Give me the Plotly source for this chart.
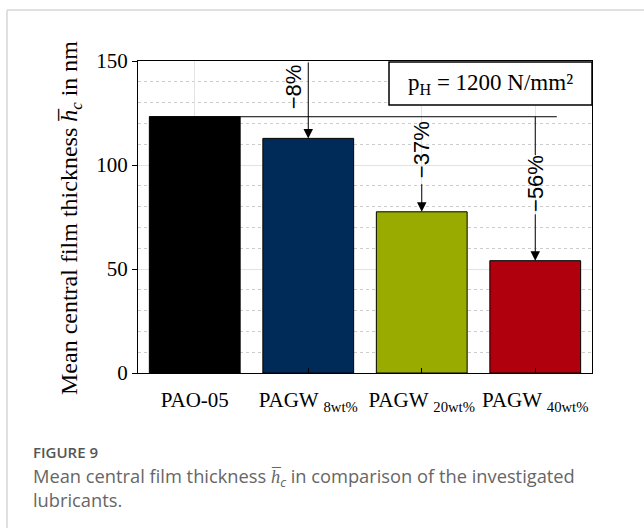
import plotly.graph_objects as go

# ---- data ----
categories = ["PAO-05", "PAGW8", "PAGW20", "PAGW40"]
tick_labels = ["PAO-05", "PAGW <sub>8wt%</sub>", "PAGW <sub>20wt%</sub>", "PAGW <sub>40wt%</sub>"]
film_thickness = [123.2, 112.8, 77.5, 54.0]
bar_colors = ["#000000", "#002b59", "#9aab00", "#b0000d"]
reduction_labels = ["\u22128%", "\u221237%", "\u221256%"]

# ---- geometry (pixels of the 644x528 page) ----
W, H = 644, 528
L, R, T, B = 138, 592, 61, 373
pw, ph = R - L, B - T


def px(xp):
    return (xp - L) / pw


def py(yp):
    return (B - yp) / ph


serif = "Liberation Serif"
sans = "Liberation Sans"
xs = list(range(len(categories)))

fig = go.Figure()
fig.add_trace(go.Bar(
    x=xs, y=film_thickness, width=0.8,
    marker=dict(color=bar_colors, line=dict(color="black", width=1)),
    showlegend=False, hoverinfo="skip",
))

shapes = []
annotations = []
pct_font = dict(family=sans, size=22, color="black")
arrow_style = dict(showarrow=True, arrowhead=2, arrowsize=1.9, arrowwidth=1,
                   arrowcolor="black", standoff=0, text="")

# reference line at PAO-05 level
ref = film_thickness[0]
shapes.append(dict(type="line", xref="x", yref="y", x0=-0.4, x1=3.19, y0=ref, y1=ref,
                   line=dict(color="black", width=1)))

# -8% arrow: from top of the plot down to bar 1
annotations.append(dict(x=1, y=film_thickness[1], ax=1, ay=150, xref="x", yref="y",
                        axref="x", ayref="y", **arrow_style))
annotations.append(dict(x=0.865, y=137.8, xref="x", yref="y", text=reduction_labels[0],
                        xanchor="center", yanchor="middle",
                        textangle=-90, showarrow=False, font=pct_font))

# -37% text and arrow
annotations.append(dict(x=2, y=107.5, xref="x", yref="y", text=reduction_labels[1],
                        xanchor="center", yanchor="middle",
                        textangle=-90, showarrow=False, font=pct_font))
annotations.append(dict(x=2, y=film_thickness[2], ax=2, ay=91.5, xref="x", yref="y",
                        axref="x", ayref="y", **arrow_style))

# -56% connector, text, arrow
shapes.append(dict(type="line", xref="x", yref="y", x0=3, x1=3, y0=ref, y1=104.8,
                   line=dict(color="black", width=1)))
annotations.append(dict(x=3, y=91.0, xref="x", yref="y", text=reduction_labels[2],
                        xanchor="center", yanchor="middle",
                        textangle=-90, showarrow=False, font=pct_font))
annotations.append(dict(x=3, y=film_thickness[3], ax=3, ay=77.0, xref="x", yref="y",
                        axref="x", ayref="y", **arrow_style))

# pressure box
shapes.append(dict(type="rect", xref="paper", yref="paper", x0=px(389), x1=px(592),
                   y0=py(105), y1=py(62), line=dict(color="black", width=1.5), fillcolor="white"))
annotations.append(dict(x=px(490), y=py(84), xref="paper", yref="paper",
                        xanchor="center", yanchor="middle",
                        text="p<sub>H</sub> = 1200 N/mm\u00b2", showarrow=False,
                        font=dict(family=serif, size=23, color="black")))

# y-axis title
annotations.append(dict(x=px(71), y=py(218), xref="paper", yref="paper",
                        xanchor="center", yanchor="middle",
                        text="Mean central film thickness <i>h\u0305</i><sub><i>c</i></sub> in nm",
                        textangle=-90, showarrow=False, font=dict(family=serif, size=24, color="black")))

# card borders
shapes.append(dict(type="line", xref="paper", yref="paper", x0=px(7), x1=px(650),
                   y0=py(10), y1=py(10), line=dict(color="#d6d6d6", width=1.5)))
shapes.append(dict(type="line", xref="paper", yref="paper", x0=px(7), x1=px(7),
                   y0=py(10), y1=py(540), line=dict(color="#d6d6d6", width=1.5)))

# caption
annotations.append(dict(x=px(31), y=py(440), xref="paper", yref="paper", xanchor="left", yanchor="top",
                        text="FIGURE 9", showarrow=False, align="left",
                        font=dict(family="Open Sans", size=15, color="#555555", weight=600)))
annotations.append(dict(x=px(31), y=py(461), xref="paper", yref="paper", xanchor="left", yanchor="top",
                        text="Mean central film thickness <i>h\u0305</i><sub><i>c</i></sub> in comparison of the investigated<br>lubricants.",
                        showarrow=False, align="left",
                        font=dict(family="Open Sans", size=18.3, color="#666666")))

fig.update_layout(
    width=W, height=H,
    margin=dict(l=L, r=W - R, t=T, b=H - B),
    paper_bgcolor="white", plot_bgcolor="white",
    shapes=shapes, annotations=annotations,
    bargap=0.2,
    xaxis=dict(
        range=[-0.5, 3.5], tickvals=xs, ticktext=tick_labels,
        showgrid=True, gridcolor="#e3e3e3", gridwidth=1,
        ticks="inside", ticklen=5, tickcolor="black",
        showline=True, linecolor="black", linewidth=1, mirror=True,
        tickfont=dict(family=serif, size=21, color="black"),
        ticklabelstandoff=8, zeroline=False,
    ),
    yaxis=dict(
        range=[0, 150], tickvals=[0, 50, 100, 150],
        showgrid=True, gridcolor="#e3e3e3", gridwidth=1,
        minor=dict(dtick=10, showgrid=True, griddash="dot", gridcolor="#cccccc", gridwidth=1),
        ticks="outside", ticklen=5, tickcolor="black",
        showline=True, linecolor="black", linewidth=1, mirror=True,
        tickfont=dict(family=serif, size=21, color="black"),
        zeroline=False,
    ),
)

fig.write_html("out.html", config={"displayModeBar": False},
               post_script="document.body.style.margin='0';")
